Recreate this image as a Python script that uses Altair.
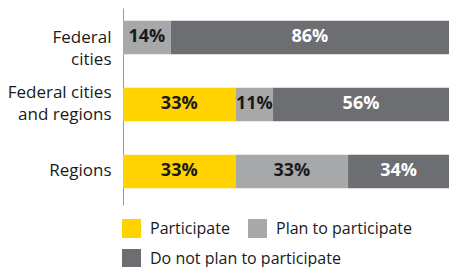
import altair as alt
import pandas as pd

categories = ["Federal|cities", "Federal cities|and regions", "Regions"]
series = ["Participate", "Plan to participate", "Do not plan to participate"]
participate = [0, 33, 33]
plan = [14, 11, 33]
do_not = [86, 56, 34]
colors = ["#FFD200", "#A7A8AA", "#6D6E71"]
text_colors = ["#1a1a1a", "#1a1a1a", "#ffffff"]

FONT = "Open Sans"
X_MAX = 0.956  # visible part of the 0-100% scale (chart is cropped at right)

rows = []
for i, cat in enumerate(categories):
    start = 0
    for s, vals, tc in zip(series, [participate, plan, do_not], text_colors):
        v = vals[i]
        a, b = start / 100, (start + v) / 100
        rows.append({"cat": cat, "series": s, "value": v, "start": a, "end": b,
                     "mid": (a + min(b, X_MAX)) / 2, "label": f"{v}%", "tc": tc})
        start += v
df = pd.DataFrame(rows)

y = alt.Y("cat:N", sort=categories, title=None,
          scale=alt.Scale(paddingInner=0.5, paddingOuter=0.22, align=0.43),
          axis=alt.Axis(labelExpr="split(datum.value, '|')", labelFontSize=17,
                        labelFont=FONT, labelColor="#1a1a1a", labelLineHeight=22,
                        labelPadding=12, ticks=False, domainColor="#999999",
                        labelOffset={"expr": "datum.value == 'Federal|cities' ? 1 : (datum.value == 'Federal cities|and regions' ? -11 : 0)"}))
x = alt.X("start:Q", scale=alt.Scale(domain=[0, X_MAX], nice=False, clamp=True), axis=None)


def legend(ly):
    return alt.Legend(orient="none", legendX=-1, legendY=ly, title=None,
                      direction="horizontal",
                      symbolType="square", symbolSize=361, symbolStrokeWidth=0,
                      labelFontSize=16, labelFont=FONT, labelColor="#1a1a1a",
                      labelOffset=9, columnPadding=18, padding=0, labelLimit=400)


base = alt.Chart(df).transform_filter("datum.value > 0")

bars_a = base.transform_filter(
    alt.FieldOneOfPredicate(field="series", oneOf=series[:2])
).mark_bar(clip=True).encode(
    y=y, x=x, x2="end:Q",
    color=alt.Color("series:N", sort=series[:2],
                    scale=alt.Scale(domain=series[:2], range=colors[:2]),
                    legend=legend(211)),
)
bars_b = base.transform_filter(
    alt.FieldOneOfPredicate(field="series", oneOf=series[2:])
).mark_bar(clip=True).encode(
    y=y, x=x, x2="end:Q",
    color=alt.Color("series:N",
                    scale=alt.Scale(domain=series[2:], range=colors[2:]),
                    legend=legend(241)),
)
texts = base.mark_text(font=FONT, fontSize=18, fontWeight="bold").encode(
    y=alt.Y("cat:N", sort=categories),
    x=alt.X("mid:Q"),
    text="label:N",
    color=alt.Color("tc:N", scale=None),
)

chart = alt.layer(bars_a, bars_b, texts).resolve_scale(color="independent").properties(
    width=326, height=197,
    autosize=alt.AutoSizeParams(type="none"),
    padding={"left": 115, "top": 0, "right": 0, "bottom": 62},
).configure_view(stroke=None)

chart.save("out.html", embed_options={"renderer": "svg", "actions": False})
